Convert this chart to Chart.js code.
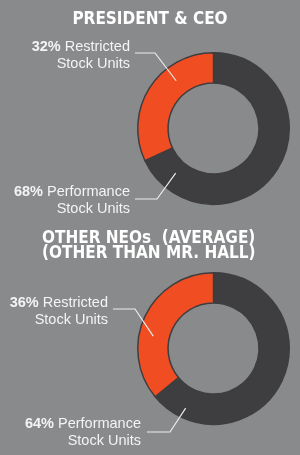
<!DOCTYPE html>
<html>
<head>
<meta charset="utf-8">
<script src="https://cdn.jsdelivr.net/npm/chart.js@4"></script>
<style>
  html, body { margin: 0; padding: 0; background: #898a8c; }
  #wrap { position: relative; width: 300px; height: 455px; overflow: hidden; }
  canvas { position: absolute; left: 0; }
  #ceoChart { top: 0; }
  #neoChart { top: 220px; }
</style>
</head>
<body>
<div id="wrap">
  <canvas id="ceoChart" width="300" height="220"></canvas>
  <canvas id="neoChart" width="300" height="235"></canvas>
</div>
<script>
const categories = ['Performance Stock Units', 'Restricted Stock Units'];
const ceoShares = [68, 32];
const neoShares = [64, 36];
const ceoTitle = ['PRESIDENT & CEO'];
const neoTitle = ['OTHER NEOs  (AVERAGE)', '(OTHER THAN MR. HALL)'];

const colors = ['#3e3d3f', '#f04e22'];
const titleFont = 'bold 17px "DejaVu Sans Condensed", "DejaVu Sans", sans-serif';
const labelSize = 14.5;

// draws the titles, the labels and the leader lines into each arc
const leaderLabels = {
  id: 'leaderLabels',
  afterDraw(chart, args, opts) {
    const ctx = chart.ctx;
    const arcs = chart.getDatasetMeta(0).data;
    const values = chart.data.datasets[0].data;
    ctx.save();

    ctx.fillStyle = '#ffffff';
    ctx.font = titleFont;
    ctx.textAlign = opts.titleAlign;
    ctx.textBaseline = 'alphabetic';
    opts.title.forEach((t, i) => ctx.fillText(t, opts.titleX, opts.titleY + i * 15.5));

    opts.labels.forEach((lab, i) => {
      const arc = arcs[i];
      const name = chart.data.labels[i].split(' ');
      const pct = values[i] + '%';
      const word = ' ' + name[0];
      const line2 = name.slice(1).join(' ');

      ctx.textAlign = 'left';
      ctx.fillStyle = '#f4f4f4';
      ctx.font = 'bold ' + labelSize + 'px "Liberation Sans", Arial, sans-serif';
      const wPct = ctx.measureText(pct).width;
      ctx.font = labelSize + 'px "Liberation Sans", Arial, sans-serif';
      const wWord = ctx.measureText(word).width;
      const x0 = lab.right - wPct - wWord;
      ctx.font = 'bold ' + labelSize + 'px "Liberation Sans", Arial, sans-serif';
      ctx.fillText(pct, x0, lab.y);
      ctx.font = labelSize + 'px "Liberation Sans", Arial, sans-serif';
      ctx.fillText(word, x0 + wPct, lab.y);
      ctx.textAlign = 'right';
      ctx.fillText(line2, lab.right, lab.y + 17);

      // end point inside the arc
      const a = arc.startAngle + (arc.endAngle - arc.startAngle) * lab.along;
      const r = arc.innerRadius + (arc.outerRadius - arc.innerRadius) * lab.depth;
      const ex = arc.x + r * Math.cos(a);
      const ey = arc.y + r * Math.sin(a);

      ctx.strokeStyle = '#ececec';
      ctx.lineWidth = 1.2;
      ctx.beginPath();
      ctx.moveTo(lab.lineX0, lab.lineY);
      ctx.lineTo(lab.kneeX, lab.lineY);
      ctx.lineTo(ex, ey);
      ctx.stroke();
    });
    ctx.restore();
  }
};

function makeChart(id, values, padding, pluginOpts) {
  return new Chart(document.getElementById(id), {
    type: 'doughnut',
    data: {
      labels: categories,
      datasets: [{
        data: values,
        backgroundColor: colors,
        borderColor: '#3e3d3f',
        borderWidth: 1.5
      }]
    },
    options: {
      responsive: false,
      animation: false,
      cutout: '60%',
      layout: { padding: padding },
      plugins: {
        legend: { display: false },
        tooltip: { enabled: false },
        leaderLabels: pluginOpts
      }
    },
    plugins: [leaderLabels]
  });
}

makeChart('ceoChart', ceoShares, { left: 137, right: 10, top: 52, bottom: 15 }, {
  title: ceoTitle, titleAlign: 'center', titleX: 150, titleY: 24,
  labels: [
    { right: 130, y: 196, lineX0: 135, lineY: 199, kneeX: 157, along: 0.90, depth: 0.43 },
    { right: 130, y: 50.7, lineX0: 135, lineY: 53, kneeX: 155, along: 0.67, depth: 0.5 }
  ]
});

makeChart('neoChart', neoShares, { left: 137, right: 10, top: 52, bottom: 30 }, {
  title: neoTitle, titleAlign: 'left', titleX: 42, titleY: 22.7,
  labels: [
    { right: 141, y: 207.7, lineX0: 147, lineY: 212, kneeX: 170, along: 0.89, depth: 0.67 },
    { right: 108, y: 87.3, lineX0: 113, lineY: 89, kneeX: 135, along: 0.395, depth: 0.53 }
  ]
});
</script>
</body>
</html>
